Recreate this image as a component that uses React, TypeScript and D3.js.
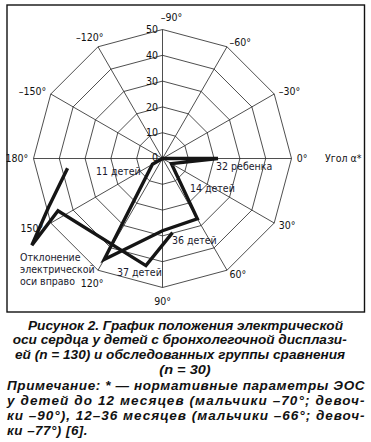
import React from "react";
import * as d3 from "d3";

// spokes of the chart (degrees, 0 = right, clockwise) and rings
const angleTicks = [-150, -120, -90, -60, -30, 0, 30, 60, 90, 120, 150, 180];
const ringTicks = [0, 10, 20, 30, 40, 50];

// series drawn on the spokes (one value per angleTicks entry)
const spokeSeriesValues = [0, 0, 0, 0, 0, 21.5, 4, 27, 28, 45.2, 4.5, 0];

// free polyline (right axis deviation)
const freeSeriesAngles = [174.1, 158.4, 157, 146.4, 153.4, 98.8, 82.3];
const freeSeriesValues = [37, 46.6, 47.9, 60.8, 45.3, 42, 29];

// group labels
const groupLabels = ["11 детей", "32 ребенка", "14 детей", "36 детей", "37 детей"];
const groupLabelAngles = [168.8, 8.7, 47.3, 83.4, 111.8];
const groupLabelValues = [26.3, 21, 15.7, 31.8, 47.5];

const axisTitle = "Угол α*";
const deviationNote = ["Отклонение", "электрической", "оси вправо"];

const captionLines = [
  "Рисунок 2. График положения электрической",
  "оси сердца у детей с бронхолегочной дисплази-",
  "ей (n = 130) и обследованных группы сравнения",
  "(n = 30)",
];
const noteLines = [
  "Примечание: * — нормативные параметры ЭОС",
  "у детей до 12 месяцев (мальчики –70°; девоч-",
  "ки –90°), 12–36 месяцев (мальчики –66°; девоч-",
  "ки –77°) [6].",
];

const W = 371;
const H = 442;
const cx = 162.5;
const cy = 158.5;
const font = "'Liberation Sans Narrow', 'Arial Narrow', 'DejaVu Sans Condensed', sans-serif";
const capFont = "'Liberation Sans', Arial, sans-serif";

// caption line extents (left x, width) as laid out in the figure
const captionBox: [number, number][] = [
  [28, 315],
  [12.7, 334],
  [15, 330],
  [159.3, 51.4],
];

const fmtAngle = (a: number) => (a < 0 ? "\u2013" + Math.abs(a) : String(a)) + "°";

export default function App() {
  const r = d3.scaleLinear().domain([0, 50]).range([0, 129]);
  const rad = (a: number) => (a * Math.PI) / 180;
  const pt = (a: number, v: number): [number, number] => [
    cx + r(v) * Math.cos(rad(a)),
    cy + r(v) * Math.sin(rad(a)),
  ];

  const radial = d3
    .lineRadial<{ a: number; v: number }>()
    .angle((d) => rad(d.a + 90))
    .radius((d) => r(d.v));

  const ringPath = (v: number) =>
    radial.curve(d3.curveLinearClosed)(angleTicks.map((a) => ({ a, v })));
  const spokeSeries = radial.curve(d3.curveLinearClosed)(
    angleTicks.map((a, i) => ({ a, v: spokeSeriesValues[i] }))
  );
  const freeSeries = radial.curve(d3.curveLinear)(
    freeSeriesAngles.map((a, i) => ({ a, v: freeSeriesValues[i] }))
  );

  // label placement around the outer ring
  const labelNudge: Record<number, [number, number]> = {
    [-90]: [9, -1],
    [-120]: [8, -5],
    [120]: [8, 9],
    [90]: [0, 3],
    [150]: [-3, 3],
  };
  const angleLabel = (a: number) => {
    const c = Math.cos(rad(a));
    const [x, y] = pt(a, 52);
    const anchor = c > 0.3 ? "start" : c < -0.3 ? "end" : "middle";
    const [nx, ny] = labelNudge[a] || [0, 0];
    const vy = Math.abs(c) < 0.3 ? Math.sign(Math.sin(rad(a))) * 6 : 0;
    return { x: x + nx, y: y + ny + vy, anchor };
  };

  const [tx, ty] = pt(0, 63);
  const [dxn, dyn] = pt(145.3, 67.2);

  return (
    <svg
      width={W}
      height={H}
      style={{ position: "absolute", left: 0, top: 0, background: "#fff" }}
    >
      <rect x={7} y={5} width={357.5} height={307} fill="none" stroke="#111" strokeWidth={1.4} />

      <g transform={`translate(${cx},${cy})`} fill="none" stroke="#222" strokeWidth={0.8}>
        {ringTicks.slice(1).map((v) => (
          <path key={v} d={ringPath(v) || ""} />
        ))}
      </g>
      {angleTicks.map((a) => {
        const [x2, y2] = pt(a, 50);
        return <line key={a} x1={cx} y1={cy} x2={x2} y2={y2} stroke="#222" strokeWidth={0.8} />;
      })}

      <g fontFamily={font} fontSize={10.5} fill="#111">
        {ringTicks.map((v) => (
          <text key={v} x={cx - 4.5} y={cy - r(v) - (v === 0 ? 1.5 : 0)} dy="0.35em" textAnchor="end">
            {v}
          </text>
        ))}
        {angleTicks.map((a) => {
          const l = angleLabel(a);
          return (
            <text key={a} x={l.x} y={l.y} dy="0.35em" textAnchor={l.anchor}>
              {fmtAngle(a)}
            </text>
          );
        })}
        <text x={tx} y={ty} dy="0.35em">{axisTitle}</text>
      </g>

      <g transform={`translate(${cx},${cy})`} fill="none" stroke="#151515" strokeWidth={3.4}>
        <path d={spokeSeries || ""} />
        <path d={freeSeries || ""} />
      </g>

      <g fontFamily={font} fontSize={10.5} fill="#1a1a2e">
        {groupLabels.map((t, i) => {
          const [x, y] = pt(groupLabelAngles[i], groupLabelValues[i]);
          return (
            <text key={t} x={x} y={y} dy="0.35em">
              {t}
            </text>
          );
        })}
        {deviationNote.map((t, i) => (
          <text key={t} x={dxn} y={dyn + i * 12} dy="0.35em">
            {t}
          </text>
        ))}
      </g>

      <g fontFamily={capFont} fontSize={13.5} fontWeight="bold" fontStyle="italic" fill="#111">
        {captionLines.map((t, i) => (
          <text
            key={t}
            x={captionBox[i][0]}
            y={329.5 + i * 14.8}
            textLength={captionBox[i][1]}
            lengthAdjust="spacingAndGlyphs"
          >
            {t}
          </text>
        ))}
        {noteLines.map((t, i) => (
          <text
            key={t}
            x={7}
            y={389.5 + i * 15.2}
            textLength={i < 3 ? 358 : 81}
            lengthAdjust={i < 3 ? "spacing" : "spacingAndGlyphs"}
            letterSpacing={0.5}
          >
            {t}
          </text>
        ))}
      </g>
    </svg>
  );
}
